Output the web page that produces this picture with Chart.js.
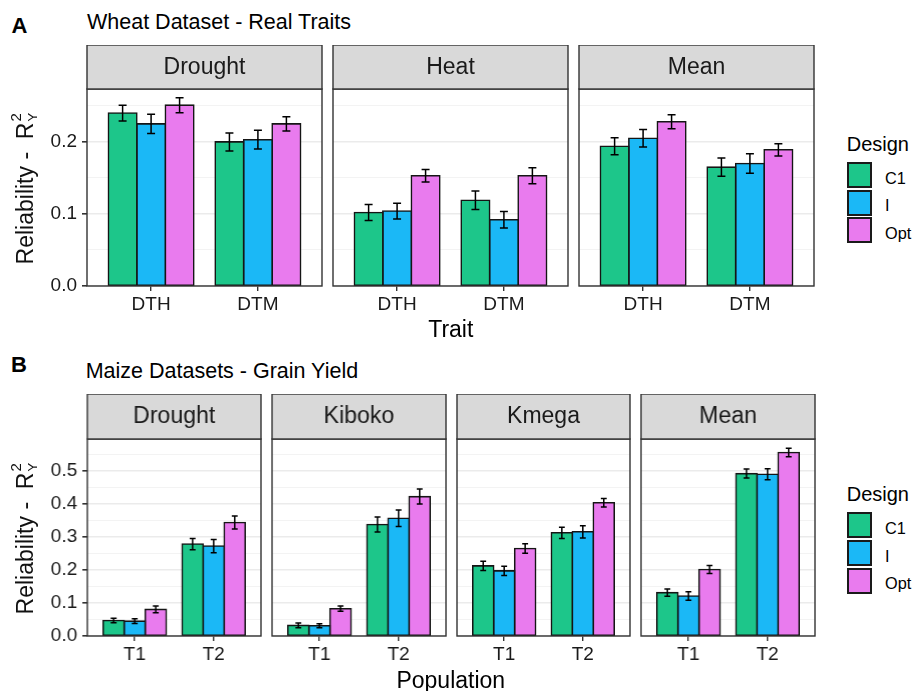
<!DOCTYPE html>
<html><head><meta charset="utf-8">
<script src="https://cdn.jsdelivr.net/npm/chart.js@4.4.1/dist/chart.umd.min.js"></script>
<style>
html,body{margin:0;padding:0;background:#fff}
body{width:916px;height:691px;position:relative;overflow:hidden;font-family:"Liberation Sans",Arial,sans-serif;color:#111}
.abs{position:absolute;white-space:nowrap;line-height:1}
canvas{position:absolute}
.key{position:absolute;width:25px;height:26px;box-sizing:border-box;border:2px solid #1a1a1a}
.ytitle{position:absolute;width:240px;height:23px;font-size:23px;line-height:23px;text-align:center;transform:rotate(-90deg);white-space:nowrap}
.ss{display:inline-block;position:relative;width:12px;height:23px;vertical-align:top}
.ss .s2{position:absolute;left:1px;top:-6px;font-size:15px;line-height:15px}
.ss .sY{position:absolute;left:1px;top:12px;font-size:13px;line-height:13px}
</style></head><body>
<script>
// ---------------- DATA ----------------
const designs = ['C1', 'I', 'Opt'];
const designColors = ['#1DC68A', '#1BB8F6', '#E97BEE'];

// Panel A: wheat, facets x traits
const wheatFacets = ['Drought', 'Heat', 'Mean'];
const wheatTraits = ['DTH', 'DTM'];
// order: Drought DTH, Drought DTM, Heat DTH, Heat DTM, Mean DTH, Mean DTM
const wheatC1  = [0.240, 0.200, 0.102, 0.119, 0.194, 0.165];
const wheatI   = [0.225, 0.203, 0.104, 0.092, 0.205, 0.170];
const wheatOpt = [0.251, 0.225, 0.153, 0.153, 0.228, 0.189];
const wheatC1Err  = [0.011, 0.0125, 0.011, 0.0127, 0.0118, 0.0127];
const wheatIErr   = [0.0134, 0.013, 0.011, 0.0115, 0.0122, 0.0134];
const wheatOptErr = [0.0104, 0.010, 0.0088, 0.011, 0.0097, 0.0085];
const wheatYTicks = [0.0, 0.1, 0.2];
const wheatYMax = 0.2734;

// Panel B: maize, facets x populations
const maizeFacets = ['Drought', 'Kiboko', 'Kmega', 'Mean'];
const maizePops = ['T1', 'T2'];
// order: Drought T1, Drought T2, Kiboko T1, Kiboko T2, Kmega T1, Kmega T2, Mean T1, Mean T2
const maizeC1  = [0.047, 0.278, 0.032, 0.337, 0.212, 0.312, 0.131, 0.491];
const maizeI   = [0.045, 0.272, 0.031, 0.356, 0.197, 0.315, 0.121, 0.489];
const maizeOpt = [0.0805, 0.343, 0.0825, 0.4215, 0.2646, 0.403, 0.201, 0.555];
const maizeC1Err  = [0.007, 0.017, 0.007, 0.0226, 0.014, 0.017, 0.011, 0.0136];
const maizeIErr   = [0.007, 0.020, 0.006, 0.0246, 0.014, 0.0186, 0.013, 0.0166];
const maizeOptErr = [0.010, 0.0196, 0.008, 0.0226, 0.0146, 0.013, 0.012, 0.013];
const maizeYTicks = [0.0, 0.1, 0.2, 0.3, 0.4, 0.5];
const maizeYMax = 0.5956;

// ---------------- DRAWING ----------------
const FONT = '"Liberation Sans", Arial, sans-serif';
Chart.defaults.font.family = FONT;

function addText(txt, left, top, size, extra) {
  const d = document.createElement('div');
  d.className = 'abs';
  d.textContent = txt;
  d.style.left = left + 'px';
  d.style.top = top + 'px';
  d.style.fontSize = size + 'px';
  if (extra) Object.assign(d.style, extra);
  document.body.appendChild(d);
  return d;
}

const panelPlugin = {
  id: 'panelDeco',
  afterDatasetsDraw(chart) {
    const ctx = chart.ctx, yS = chart.scales.y;
    ctx.save();
    ctx.strokeStyle = '#000';
    ctx.lineWidth = 1.5;
    chart.data.datasets.forEach((ds, i) => {
      const meta = chart.getDatasetMeta(i);
      meta.data.forEach((el, j) => {
        const v = ds.data[j].y, e = ds.errs[j];
        const yt = yS.getPixelForValue(v + e), yb = yS.getPixelForValue(v - e);
        const cw = el.width * 0.28 / 2;
        ctx.beginPath();
        ctx.moveTo(el.x, yt); ctx.lineTo(el.x, yb);
        ctx.moveTo(el.x - cw, yt); ctx.lineTo(el.x + cw, yt);
        ctx.moveTo(el.x - cw, yb); ctx.lineTo(el.x + cw, yb);
        ctx.stroke();
      });
    });
    ctx.restore();
  },
  afterDraw(chart) {
    const ctx = chart.ctx, a = chart.chartArea;
    const o = chart.options.plugins.panelDeco;
    ctx.save();
    // panel border
    ctx.strokeStyle = '#333';
    ctx.lineWidth = 1.4;
    ctx.strokeRect(a.left, a.top, a.right - a.left, a.bottom - a.top);
    // strip
    const st = a.top - o.stripH;
    ctx.fillStyle = '#D9D9D9';
    ctx.fillRect(a.left, st, a.right - a.left, o.stripH);
    ctx.strokeRect(a.left, st, a.right - a.left, o.stripH);
    ctx.fillStyle = '#1A1A1A';
    ctx.font = '23px ' + FONT;
    ctx.textAlign = 'center';
    ctx.textBaseline = 'alphabetic';
    ctx.fillText(o.label, (a.left + a.right) / 2, st + o.stripH / 2 + 6.5);
    ctx.restore();
  }
};

function isMajor(v) { return Math.abs(v * 10 - Math.round(v * 10)) < 1e-6; }

function facet(cfg) {
  const { left, top, width, stripH, plotH, axisH, first, cats, series, errs, ymax, majors, label } = cfg;
  const yw = first ? left : 2;
  const cv = document.createElement('canvas');
  const cw = yw + width + 2, ch = stripH + plotH + axisH;
  cv.width = cw; cv.height = ch;
  cv.style.left = (left - yw) + 'px';
  cv.style.top = top + 'px';
  cv.style.width = cw + 'px'; cv.style.height = ch + 'px';
  document.body.appendChild(cv);
  const yTickVals = [];
  for (let k = 0; k * 0.05 <= ymax + 1e-9; k++) yTickVals.push(+(k * 0.05).toFixed(2));
  const datasets = designs.map((d, i) => ({
    label: d,
    data: cats.map((c, k) => ({ x: k + 1, y: series[i][k] })),
    errs: errs[i],
    backgroundColor: designColors[i],
    borderColor: '#151515',
    borderWidth: 1.6,
    inflateAmount: 0.8,
    borderSkipped: false,
    categoryPercentage: 0.8,
    barPercentage: 1.0
  }));
  new Chart(cv, {
    type: 'bar',
    data: { datasets },
    options: {
      responsive: false, animation: false, devicePixelRatio: 1,
      layout: { padding: { top: stripH, left: 0, right: 2, bottom: 0 } },
      plugins: { legend: { display: false }, tooltip: { enabled: false }, title: { display: false },
        panelDeco: { stripH, label } },
      scales: {
        x: {
          type: 'linear', min: 0.4, max: 2.6, offset: false,
          afterBuildTicks: ax => { ax.ticks = cats.map((c, k) => ({ value: k + 1 })); },
          afterFit: ax => { ax.height = axisH; },
          ticks: { callback: v => cats[Math.round(v) - 1], font: { size: 19 }, color: '#1A1A1A',
                   padding: 2, maxRotation: 0, autoSkip: false },
          grid: { offset: false, drawOnChartArea: false, drawTicks: true, tickLength: 5, tickColor: '#333', lineWidth: 1.4 },
          border: { display: false }
        },
        y: {
          type: 'linear', min: 0, max: ymax,
          afterBuildTicks: ax => { ax.ticks = yTickVals.map(v => ({ value: v })); },
          afterFit: ax => { ax.width = yw; },
          ticks: { display: first, autoSkip: false, padding: 5, font: { size: 19 }, color: '#1A1A1A',
                   callback: v => (isMajor(v) && majors.some(m => Math.abs(m - v) < 1e-6)) ? v.toFixed(1) : '' },
          grid: {
            offset: false,
            drawTicks: first, tickLength: 5,
            tickColor: c => (c.tick && isMajor(c.tick.value)) ? '#333' : 'rgba(0,0,0,0)',
            color: c => (c.tick && isMajor(c.tick.value)) ? '#EBEBEB' : '#F3F3F3',
            lineWidth: c => (c.tick && isMajor(c.tick.value)) ? 1.6 : 1
          },
          border: { display: false }
        }
      }
    },
    plugins: [panelPlugin]
  });
}

function panel(p) {
  p.facets.forEach((name, f) => {
    const n = p.cats.length;
    facet({
      left: p.lefts[f], top: p.top, width: p.width, stripH: p.stripH, plotH: p.plotH, axisH: p.axisH,
      first: f === 0, cats: p.cats, label: name, ymax: p.ymax, majors: p.majors,
      series: p.series.map(s => s.slice(f * n, f * n + n)),
      errs: p.errs.map(s => s.slice(f * n, f * n + n))
    });
  });
}

panel({ facets: wheatFacets, cats: wheatTraits, lefts: [87, 333, 579], width: 235, top: 45,
  stripH: 44, plotH: 197, axisH: 40, ymax: wheatYMax, majors: wheatYTicks,
  series: [wheatC1, wheatI, wheatOpt], errs: [wheatC1Err, wheatIErr, wheatOptErr] });

panel({ facets: maizeFacets, cats: maizePops, lefts: [87, 272, 456.5, 641], width: 173.5, top: 394,
  stripH: 45, plotH: 197, axisH: 40, ymax: maizeYMax, majors: maizeYTicks,
  series: [maizeC1, maizeI, maizeOpt], errs: [maizeC1Err, maizeIErr, maizeOptErr] });

// Panel letters and titles
addText('A', 11.5, 14.7, 22, { fontWeight: 'bold', color: '#000' });
addText('B', 11, 353.7, 22, { fontWeight: 'bold', color: '#000' });
addText('Wheat Dataset - Real Traits', 87, 11.8, 21.5, { color: '#000' });
addText('Maize Datasets - Grain Yield', 85.7, 361.1, 21.5, { color: '#000' });

// Axis titles
addText('Trait', 350.8, 318, 23, { width: '200px', textAlign: 'center', color: '#000' });
addText('Population', 350.8, 668.7, 23, { width: '200px', textAlign: 'center', color: '#000' });

function yTitle(cy) {
  const d = document.createElement('div');
  d.className = 'ytitle';
  const cx = 25.3;
  d.style.left = (cx - 120) + 'px';
  d.style.top = (cy - 11.5) + 'px';
  d.innerHTML = 'Reliability -&nbsp; R<span class="ss"><span class="s2">2</span><span class="sY">Y</span></span>';
  document.body.appendChild(d);
}
yTitle(187.5);
yTitle(537.5);

// Legends
function legend(dy) {
  addText('Design', 846.7, 133.8 + dy, 20, { color: '#000' });
  designs.forEach((d, i) => {
    const kt = 161.7 + i * 27.8 + dy;
    const k = document.createElement('div');
    k.className = 'key';
    k.style.left = '847.3px'; k.style.top = kt + 'px';
    k.style.background = designColors[i];
    document.body.appendChild(k);
    addText(d, 885, kt + 7.8, 16.3, { color: '#000' });
  });
}
legend(0);
legend(350.3);
</script>
</body></html>
